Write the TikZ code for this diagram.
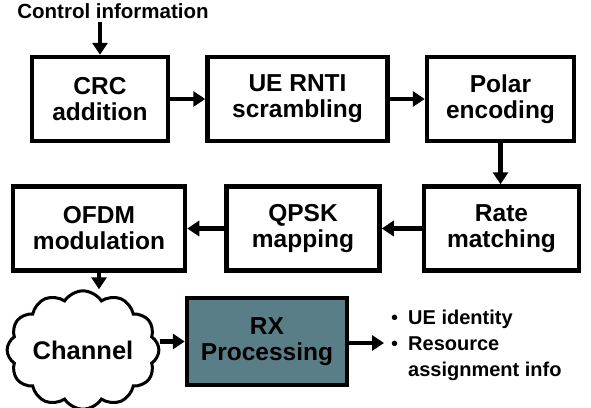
\documentclass[tikz,border=0pt]{standalone}
\usepackage{fontspec}
\setmainfont{Liberation Sans}
\usetikzlibrary{arrows.meta,positioning,shapes.symbols}
\definecolor{RxSlate}{HTML}{597E88}

\begin{document}
\begin{tikzpicture}[
    x=1pt,y=-1pt,
    blk/.style={draw,line width=4.5pt,fill=white,minimum height=84pt,align=center,
      font=\fontsize{24.5}{26}\selectfont\bfseries,inner sep=2pt},
    arr/.style={-{Triangle[length=12pt,width=15pt]},line width=4.5pt}
  ]
    \useasboundingbox (0,0) rectangle (591,407);
    % transmitter chain
    \node[font=\fontsize{20.5}{22}\selectfont\bfseries] (ctrl) at (113,11) {Control information};
    \node[blk,minimum width=136pt] (crc) at (100,99) {CRC\\addition};
    \node[blk,minimum width=180pt,right=35pt of crc] (rnti) {UE RNTI\\scrambling};
    \node[blk,minimum width=147pt,right=35pt of rnti] (polar) {Polar\\encoding};
    \node[blk,minimum width=155pt,below=41pt of polar,xshift=1pt] (rate) {Rate\\matching};
    \node[blk,minimum width=153pt,left=40pt of rate] (qpsk) {QPSK\\mapping};
    \node[blk,minimum width=172pt,left=37pt of qpsk] (ofdm) {OFDM\\modulation};
    % channel and receiver
    \node[cloud,draw,line width=3pt,cloud puffs=12,cloud puff arc=115,aspect=1.4,
      minimum width=140pt,minimum height=98pt,inner sep=0pt,
      font=\fontsize{25.5}{27}\selectfont\bfseries] (chan) at (83,350) {Channel};
    \node[blk,fill=RxSlate,minimum width=160pt,minimum height=87pt] (rx) at (267,341.5) {RX\\Processing};
    \coordinate (out) at (384,343);
    \node[anchor=west,align=left,inner sep=0pt,font=\fontsize{20}{26}\selectfont\bfseries] (info) at (391,345)
      {\begin{tabular}{@{}l@{\hspace{10pt}}l@{}}
        {\mdseries\textbullet} & UE identity\\
        {\mdseries\textbullet} & Resource\\
         & assignment info
       \end{tabular}};
    \draw[arr] (ctrl.south -| crc) -- (crc);
    \draw[arr] (crc) -- (rnti);
    \draw[arr] (rnti) -- (polar);
    \draw[arr] (polar) -- (polar |- rate.north);
    \draw[arr] (rate) -- (qpsk);
    \draw[arr] (qpsk) -- (ofdm);
    \draw[arr] (ofdm) -- (ofdm |- chan.north);
    \draw[arr] (chan.east |- rx) -- (rx);
    \draw[arr] (rx.east |- out) -- (out);
  \end{tikzpicture}
\end{document}
